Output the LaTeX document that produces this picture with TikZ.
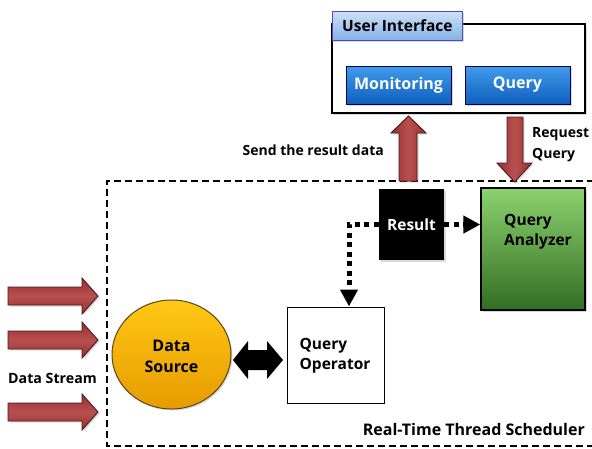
\documentclass[tikz,border=0pt]{standalone}
\usepackage{fontspec}
\setmainfont{Open Sans}
\usetikzlibrary{arrows.meta,shadows,calc,shapes.geometric}
\definecolor{redB}{HTML}{962F30}
\definecolor{redL}{HTML}{B95050}
\definecolor{redD}{HTML}{4A1A1A}
\tikzset{
  lbl/.style={font=\bfseries\fontsize{15}{19}\selectfont, inner sep=0pt, align=left},
  shad/.style={drop shadow={opacity=0.3, shadow xshift=1.5pt, shadow yshift=-1.5pt}},
  uibox/.style={draw=black, line width=1.2pt, fill=white, shad},
  tab/.style={draw=blue!40!gray, line width=0.8pt, top color={rgb,255:red,205;green,225;blue,247}, bottom color={rgb,255:red,135;green,178;blue,230}, shad,
     font=\bfseries\fontsize{15.5}{19}\selectfont, text=black},
  btn/.style={draw=blue!30!black, line width=0.8pt, top color={rgb,255:red,65;green,155;blue,235}, bottom color={rgb,255:red,15;green,95;blue,190}, shad,
     text=white, font=\bfseries\fontsize{16}{19}\selectfont},
  hred/.style={draw=redD, line width=0.9pt, top color=redB, bottom color=redB, middle color=redL, shad},
  vred/.style={draw=redD, line width=0.9pt, left color=redB, right color=redB, middle color=redL, shad},
  dotconn/.style={line width=5pt, dash pattern=on 5pt off 4.5pt, -{Triangle[length=17pt, width=17pt]}},
}
\begin{document}
\begin{tikzpicture}[x=1pt,y=-1pt]
\useasboundingbox (0,0) rectangle (592,448);
% scheduler region
\draw[line width=1.6pt, dash pattern=on 7pt off 4pt] (594,181) -- (107,181) -- (107,446) -- (594,446);
\node[lbl, anchor=east, font=\bfseries\fontsize{16}{19}\selectfont] (sched) at (585,429) {Real-Time Thread Scheduler};

% user interface
\node[uibox, minimum width=253pt, minimum height=89pt] (ui) at (458.5,68.5) {};
\node[tab, minimum width=130pt, minimum height=29pt, inner xsep=7pt, anchor=west] (tab) at (332,25.5) {User Interface\hfill};
\node[btn, minimum width=105pt, minimum height=38pt] (mon) at (398.5,85) {Monitoring};
\node[btn, minimum width=105pt, minimum height=38pt] (qry) at (517.5,85) {Query};

% vertical block arrows
\draw[vred] (399,181) -- (399,133) -- (391,133) -- (408.5,116) -- (426,133) -- (417,133) -- (417,181) -- cycle;
\draw[vred] (507,117) -- (507,163) -- (497,163) -- (514.5,182) -- (532,163) -- (523,163) -- (523,117) -- cycle;
\node[lbl, anchor=east, font=\bfseries\fontsize{14}{19}\selectfont] (send) at (384,150) {Send the result data};
\node[lbl, anchor=west, font=\bfseries\fontsize{14}{21}\selectfont] (req) at (532,145) {Request\\Query};

% inner nodes
\node[fill=black, minimum width=65pt, minimum height=71pt, text=white, font=\bfseries\fontsize{15.5}{19}\selectfont, shad] (res) at (411.5,224.5) {Result};
\node[draw=black, line width=1.4pt, top color={rgb,255:red,140;green,210;blue,110}, bottom color={rgb,255:red,50;green,110;blue,35}, minimum width=104pt, minimum height=122pt, shad] (qa) at (533,249) {};
\node[lbl, font=\bfseries\fontsize{15.5}{20}\selectfont] (qat) at (538,232) {Query\\Analyzer};
\node[draw=black, line width=1pt, fill=white, minimum width=97pt, minimum height=96pt] (op) at (335.5,355) {};
\node[lbl, font=\bfseries\fontsize{15.5}{20}\selectfont] (opt) at (335,356) {Query\\Operator};
\node[ellipse, draw={rgb,255:red,90;green,70;blue,20}, line width=1pt, top color={rgb,255:red,255;green,200;blue,20}, bottom color={rgb,255:red,230;green,155;blue,0}, minimum width=119pt, minimum height=109pt, shad, inner sep=0pt] (ds) at (171.5,354.5) {};
\node[lbl, align=center, font=\bfseries\fontsize{16}{21}\selectfont] (dst) at (171.5,356) {Data\\Source};

% dotted connectors
\draw[dotconn] (res.west) -| ([xshift=13.5pt]op.north);
\draw[dotconn] (res.east) -- (res.east -| qa.west);

% double arrow
\fill[black] (233,360) -- (248,341) -- (248,350) -- (267,350) -- (267,341) -- (283,360) -- (267,379) -- (267,370) -- (248,370) -- (248,379) -- cycle;

% data stream arrows
\foreach \yy in {296,340,412} {
  \draw[hred] (8,\yy-9) -- (82,\yy-9) -- (82,\yy-18) -- (98,\yy) -- (82,\yy+18) -- (82,\yy+9) -- (8,\yy+9) -- cycle;
}
\node[lbl, font=\bfseries\fontsize{14.2}{19}\selectfont] (dstream) at (52.5,378) {Data Stream};
\end{tikzpicture}
\end{document}
